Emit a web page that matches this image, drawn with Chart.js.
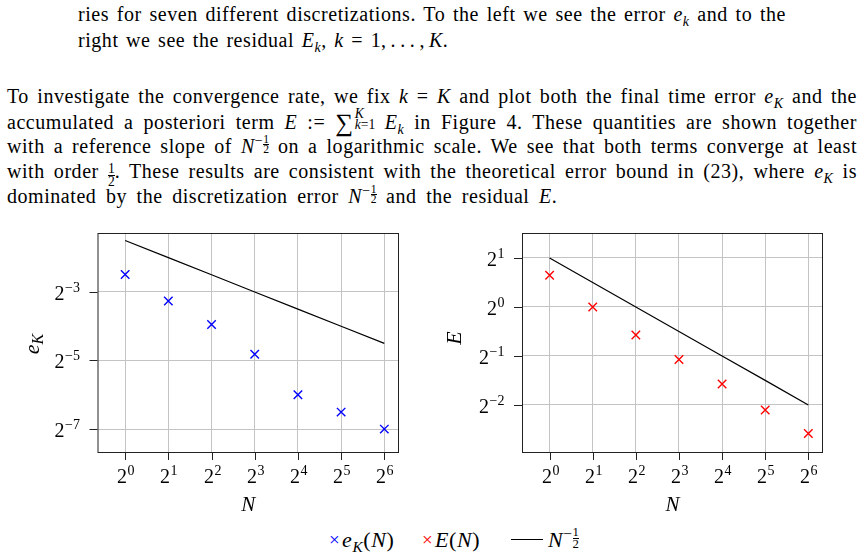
<!DOCTYPE html>
<html>
<head>
<meta charset="utf-8">
<script src="https://cdn.jsdelivr.net/npm/chart.js@4"></script>
<style>
  body { margin: 0; width: 862px; height: 557px; background: #fff; position: relative; overflow: hidden;
         font-family: "Liberation Serif", "DejaVu Serif", serif; color: #000; }
  .ln { position: absolute; font-size: 20px; line-height: 25px; height: 25px; white-space: nowrap;
        letter-spacing: 0.55px; word-spacing: 4px; }
  .j { text-align: justify; text-align-last: justify; white-space: normal; word-spacing: 0; }
  sub, sup { font-size: 70%; line-height: 0; }
  .frac { display: inline-flex; flex-direction: column; font-size: 58%; line-height: 0.85; vertical-align: 0.9em; text-align: center; letter-spacing: 0; }
  .frac span:first-child { border-bottom: 0.8px solid #000; }
  .sig { font-size: 125%; line-height: 0; vertical-align: -0.08em; }
  .lim { display: inline-block; position: relative; width: 1.55em; height: 1em; letter-spacing: 0; }
  .lim span { position: absolute; left: 1px; font-size: 68%; line-height: 1; }
  .lim .up { top: -0.12em; }
  .lim .dn { top: 0.66em; }
  .dots { word-spacing: 0; letter-spacing: 0.3px; }
  canvas { position: absolute; }
  .lg { position: absolute; top: 527px; font-size: 22px; line-height: 26px; white-space: nowrap; letter-spacing: 0.6px; }
  .mk { position: absolute; top: 529px; font-size: 19px; line-height: 22px; }
</style>
</head>
<body>
<div class="ln j" style="top:2px; left:78px; width:708px;">ries for seven different discretizations. To the left we see the error <i>e</i><sub><i>k</i></sub> and to the</div>
<div class="ln" style="top:28px; left:78px; word-spacing:2px;">right we see the residual <i>E</i><sub><i>k</i></sub>, <i>k</i> = <span class="dots">1,&thinsp;.&thinsp;.&thinsp;.&thinsp;,&thinsp;<i>K</i>.</span></div>

<div class="ln j" style="top:84px; left:7px; width:850px;">To investigate the convergence rate, we fix <i>k</i> = <i>K</i> and plot both the final time error <i>e</i><sub><i>K</i></sub> and the</div>
<div class="ln j" style="top:109px; left:7px; width:850px;">accumulated a posteriori term <i>E</i> := <span class="sig">&sum;</span><span class="lim"><span class="up"><i>K</i></span><span class="dn"><i>k</i>=1</span></span><i>E</i><sub><i>k</i></sub> in Figure 4. These quantities are shown together</div>
<div class="ln j" style="top:134px; left:7px; width:850px;">with a reference slope of <i>N</i><sup>&minus;</sup><span class="frac"><span>1</span><span>2</span></span> on a logarithmic scale. We see that both terms converge at least</div>
<div class="ln j" style="top:159px; left:7px; width:850px;">with order <span class="frac" style="font-size:68%;vertical-align:0.35em"><span>1</span><span>2</span></span>. These results are consistent with the theoretical error bound in (23), where <i>e</i><sub><i>K</i></sub> is</div>
<div class="ln" style="top:184px; left:7px;">dominated by the discretization error <i>N</i><sup>&minus;</sup><span class="frac"><span>1</span><span>2</span></span> and the residual <i>E</i>.</div>

<canvas id="left" width="430" height="300" style="left:0; top:225px;"></canvas>
<canvas id="right" width="432" height="300" style="left:430px; top:225px;"></canvas>

<span class="mk" style="left:329px; color:#0000ff">&times;</span>
<span class="lg" style="left:342px;"><i>e</i><sub><i>K</i></sub>(<i>N</i>)</span>
<span class="mk" style="left:422px; color:#ff0000">&times;</span>
<span class="lg" style="left:435px;"><i>E</i>(<i>N</i>)</span>
<span style="position:absolute; left:511px; top:539px; width:32px; border-top:1.2px solid #000;"></span>
<span class="lg" style="left:548px;"><i>N</i><sup>&minus;</sup><span class="frac"><span>1</span><span>2</span></span></span>

<script>
// data
const nValues = [1, 2, 4, 8, 16, 32, 64];
const errorK = [0.178, 0.104, 0.0646, 0.0354, 0.0156, 0.0110, 0.0078];
const residualE = [1.565, 1.0, 0.673, 0.476, 0.336, 0.233, 0.167];
const refLeft = [0.354, 0.25, 0.177, 0.125, 0.0884, 0.0625, 0.0442];
const refRight = [2, 1.414, 1, 0.707, 0.5, 0.354, 0.25];
const xTickExps = [0, 1, 2, 3, 4, 5, 6];
const leftYTickExps = [-3, -5, -7];
const rightYTickExps = [1, 0, -1, -2];

const SERIF = "'Liberation Serif', 'DejaVu Serif', serif";

function drawPow(ctx, exp, x, y, align) {
  const base = "2";
  const ex = exp < 0 ? "\u2212" + Math.abs(exp) : String(exp);
  ctx.font = "20px " + SERIF;
  const wb = ctx.measureText(base).width;
  ctx.font = "14px " + SERIF;
  const we = ctx.measureText(ex).width;
  let x0 = align === "center" ? x - (wb + we) / 2 : x - wb - we;
  ctx.textAlign = "left";
  ctx.textBaseline = "alphabetic";
  ctx.font = "20px " + SERIF;
  ctx.fillText(base, x0, y);
  ctx.font = "14px " + SERIF;
  ctx.fillText(ex, x0 + wb + 0.5, y - 8);
}

// frame, tick marks, tick labels and axis titles in the latex style
const frame = {
  id: "frame",
  afterDraw(chart, args, opts) {
    const { ctx, chartArea: a, scales } = chart;
    ctx.save();
    ctx.strokeStyle = "#222";
    ctx.lineWidth = 1;
    ctx.strokeRect(a.left + 0.5, a.top + 0.5, a.right - a.left - 1, a.bottom - a.top);
    ctx.fillStyle = "#000";
    xTickExps.forEach(e => {
      const x = Math.round(scales.x.getPixelForValue(Math.pow(2, e))) + 0.5;
      ctx.beginPath(); ctx.moveTo(x, a.bottom); ctx.lineTo(x, a.bottom + 8); ctx.stroke();
      drawPow(ctx, e, x, a.bottom + 31, "center");
    });
    opts.yExps.forEach(e => {
      const y = Math.round(scales.y.getPixelForValue(Math.pow(2, e))) + 0.5;
      ctx.beginPath(); ctx.moveTo(a.left - 8, y); ctx.lineTo(a.left, y); ctx.stroke();
      drawPow(ctx, e, a.left - 18, y + 7, "right");
    });
    // x title
    ctx.font = "italic 21px " + SERIF;
    ctx.textAlign = "center";
    ctx.textBaseline = "middle";
    ctx.fillText("N", (a.left + a.right) / 2, a.bottom + 53);
    // y title
    ctx.translate(opts.yTitleX, opts.yTitleY);
    ctx.rotate(-Math.PI / 2);
    ctx.textAlign = "left";
    ctx.textBaseline = "middle";
    ctx.font = "italic 22px " + SERIF;
    const w = ctx.measureText(opts.yTitle).width;
    let sw = 0;
    if (opts.ySub) { ctx.font = "italic 16px " + SERIF; sw = ctx.measureText(opts.ySub).width; }
    const x0 = -(w + sw) / 2;
    ctx.font = "italic 22px " + SERIF;
    ctx.fillText(opts.yTitle, x0, 0);
    if (opts.ySub) { ctx.font = "italic 16px " + SERIF; ctx.fillText(opts.ySub, x0 + w, 6); }
    ctx.restore();
  }
};

function makeChart(id, values, ref, color, yMin, yMax, yExps, pad, titleOpts) {
  return new Chart(document.getElementById(id), {
    type: "line",
    data: {
      labels: nValues,
      datasets: [
        {
          data: nValues.map((n, i) => ({ x: n, y: values[i] })),
          showLine: false,
          pointStyle: "crossRot",
          pointRadius: 6,
          pointHoverRadius: 6,
          pointBorderWidth: 1.4,
          borderColor: color,
          backgroundColor: color
        },
        {
          data: nValues.map((n, i) => ({ x: n, y: ref[i] })),
          borderColor: "#000",
          borderWidth: 1.2,
          pointRadius: 0,
          pointHoverRadius: 0,
          fill: false
        }
      ]
    },
    options: {
      responsive: false,
      animation: false,
      layout: { padding: pad, autoPadding: false },
      plugins: { legend: { display: false }, tooltip: { enabled: false }, frame: Object.assign({ yExps }, titleOpts) },
      scales: {
        x: {
          type: "logarithmic",
          bounds: "data",
          min: Math.pow(2, -0.64), max: Math.pow(2, 6.34),
          afterBuildTicks: s => { s.ticks = xTickExps.map(e => ({ value: Math.pow(2, e) })); },
          ticks: { display: false },
          grid: { color: "#c4c4c4", lineWidth: 1, drawTicks: false },
          border: { display: false }
        },
        y: {
          type: "logarithmic",
          bounds: "data",
          min: yMin, max: yMax,
          afterBuildTicks: s => { s.ticks = yExps.map(e => ({ value: Math.pow(2, e) })); },
          ticks: { display: false },
          grid: { color: "#c4c4c4", lineWidth: 1, drawTicks: false },
          border: { display: false }
        }
      }
    },
    plugins: [frame]
  });
}

makeChart("left", errorK, refLeft, "#0000ff", Math.pow(2, -7.67), Math.pow(2, -1.28), leftYTickExps,
  { left: 97.5, right: 31, top: 8, bottom: 73 }, { yTitle: "e", ySub: "K", yTitleX: 33, yTitleY: 119 });
makeChart("right", residualE, refRight, "#ff0000", Math.pow(2, -2.96), Math.pow(2, 1.51), rightYTickExps,
  { left: 92, right: 39, top: 8, bottom: 73 }, { yTitle: "E", ySub: "", yTitleX: 25, yTitleY: 113 });
</script>
</body>
</html>
